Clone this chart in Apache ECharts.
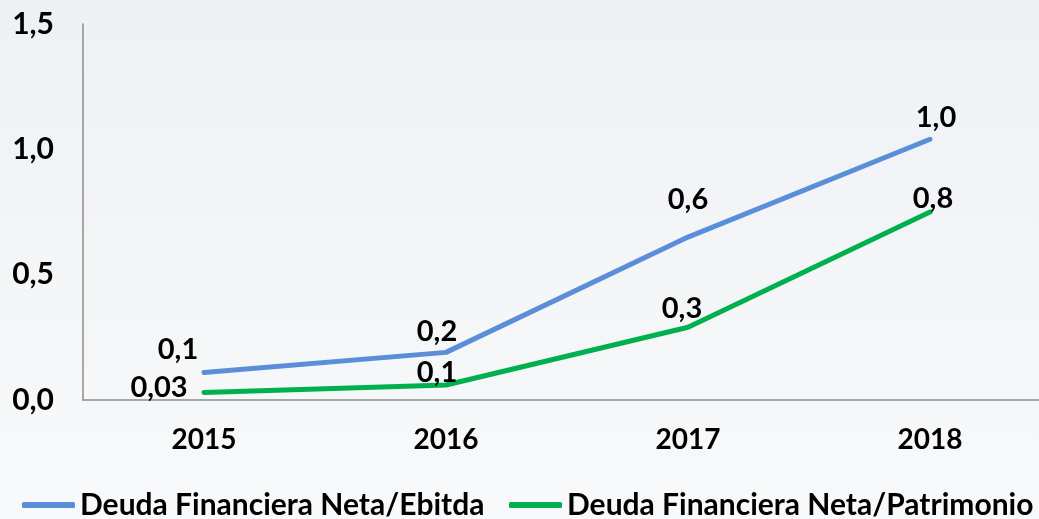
<!DOCTYPE html>
<html><head><meta charset="utf-8">
<script src="https://cdn.jsdelivr.net/npm/echarts@6/dist/echarts.min.js"></script>
<style>html,body{margin:0;padding:0;}#c{width:1039px;height:519px;}</style>
</head><body><div id="c"></div>
<script>
const categories = ['2015', '2016', '2017', '2018'];
const seriesNames = ['Deuda Financiera Neta/Ebitda', 'Deuda Financiera Neta/Patrimonio'];
const ebitdaValues = [0.11, 0.19, 0.65, 1.04];
const patrimonioValues = [0.03, 0.06, 0.29, 0.75];
const ebitdaLabels = ['0,1', '0,2', '0,6', '1,0'];
const patrimonioLabels = ['0,03', '0,1', '0,3', '0,8'];

const ebitdaLabelOffsets = [[-26, -2], [-9, 0], [0, -17], [6, -1]];
const patrimonioLabelOffsets = [[-45, 16], [-9, 8], [-6, 2], [3, 7]];

const FONT = 'Lato';
const chart = echarts.init(document.getElementById('c'));

function buildData(vals, labels, offsets) {
  return vals.map((v, i) => ({
    value: v,
    label: { formatter: labels[i], offset: offsets[i] }
  }));
}

const labelStyle = { show: true, position: 'top', fontFamily: FONT, fontWeight: 'bold', fontSize: 29, color: '#000' };
const legendBase = {
  top: 485, padding: 5,
  icon: 'roundRect', itemWidth: 53, itemHeight: 6,
  textStyle: { fontFamily: FONT, fontWeight: 'bold', fontSize: 30, color: '#000' }
};

chart.setOption({
  backgroundColor: {
    type: 'linear', x: 0, y: 0, x2: 0, y2: 1,
    colorStops: [{ offset: 0, color: '#eef1f4' }, { offset: 1, color: '#f8f9fa' }]
  },
  animation: false,
  textStyle: { fontFamily: FONT },
  grid: { left: 83, top: 24, width: 968, height: 376, containLabel: false, outerBoundsMode: 'none' },
  legend: [
    Object.assign({ left: 17, data: [seriesNames[0]] }, legendBase),
    Object.assign({ left: 504, data: [seriesNames[1]] }, legendBase)
  ],
  xAxis: {
    type: 'category', data: categories, boundaryGap: true,
    axisLine: { lineStyle: { color: '#8c8c8c', width: 1.5 } },
    axisTick: { show: false },
    axisLabel: { fontFamily: FONT, fontWeight: 'bold', fontSize: 28, color: '#000', margin: 26 }
  },
  yAxis: {
    type: 'value', min: 0, max: 1.5, interval: 0.5,
    axisLine: { show: true, lineStyle: { color: '#8c8c8c', width: 1.5 } },
    axisTick: { show: false },
    splitLine: { show: false },
    axisLabel: {
      fontFamily: FONT, fontWeight: 'bold', fontSize: 30, color: '#000', margin: 29,
      formatter: v => v.toFixed(1).replace('.', ',')
    }
  },
  series: [
    {
      name: seriesNames[0], type: 'line', symbol: 'circle', symbolSize: 2, showSymbol: true,
      data: buildData(ebitdaValues, ebitdaLabels, ebitdaLabelOffsets),
      lineStyle: { color: '#5a8ed8', width: 5, cap: 'round' },
      itemStyle: { color: '#5a8ed8' },
      label: labelStyle
    },
    {
      name: seriesNames[1], type: 'line', symbol: 'circle', symbolSize: 2, showSymbol: true,
      data: buildData(patrimonioValues, patrimonioLabels, patrimonioLabelOffsets),
      lineStyle: { color: '#00b04f', width: 5, cap: 'round' },
      itemStyle: { color: '#00b04f' },
      label: labelStyle
    }
  ]
});
</script></body></html>
